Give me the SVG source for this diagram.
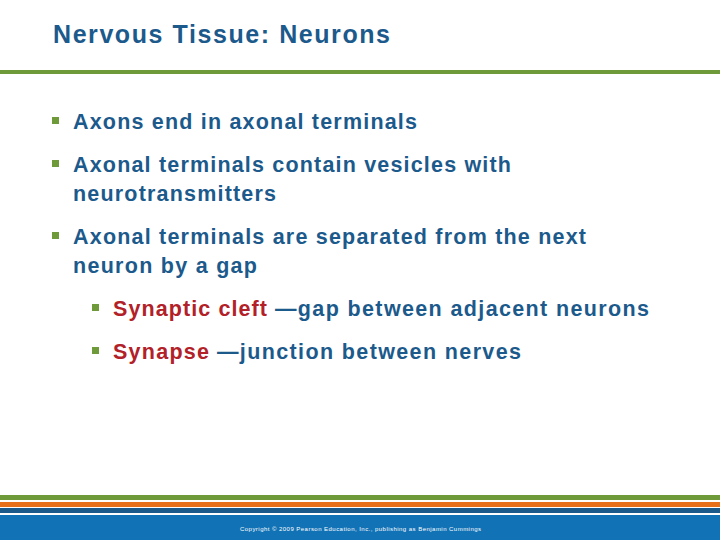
<svg xmlns="http://www.w3.org/2000/svg" width="720" height="540" viewBox="0 0 720 540">
<style>
text{font-family:"Liberation Sans",Arial,sans-serif;font-weight:bold;fill:#1c5a8c}
.b{font-size:21.5px}
.r{fill:#b22028}
.bl{fill:#6e9a3a}
</style>
<rect width="720" height="540" fill="#fff"/>
<text x="53" y="43" font-size="25" textLength="337" lengthAdjust="spacing">Nervous Tissue: Neurons</text>
<rect x="0" y="70" width="720" height="4" fill="#6e9a3a"/>
<g id="bullets">
<rect class="bl" x="52" y="117" width="7" height="7"/>
<text class="b" x="73" y="129" textLength="344" lengthAdjust="spacing">Axons end in axonal terminals</text>
<rect class="bl" x="52" y="160" width="7" height="7"/>
<text class="b" x="73" y="172" textLength="438" lengthAdjust="spacing">Axonal terminals contain vesicles with</text>
<text class="b" x="73" y="201" textLength="203" lengthAdjust="spacing">neurotransmitters</text>
<rect class="bl" x="52" y="232" width="7" height="7"/>
<text class="b" x="73" y="244" textLength="513" lengthAdjust="spacing">Axonal terminals are separated from the next</text>
<text class="b" x="73" y="273" textLength="184" lengthAdjust="spacing">neuron by a gap</text>
<rect class="bl" x="92" y="304" width="7" height="7"/>
<text class="b r" x="113" y="316" textLength="154" lengthAdjust="spacing">Synaptic cleft</text>
<text class="b" x="275" y="316" textLength="374" lengthAdjust="spacing">—gap between adjacent neurons</text>
<rect class="bl" x="92" y="347" width="7" height="7"/>
<text class="b r" x="113" y="359" textLength="96" lengthAdjust="spacing">Synapse</text>
<text class="b" x="217" y="359" textLength="304" lengthAdjust="spacing">—junction between nerves</text>
</g>
<rect x="0" y="495" width="720" height="5" fill="#6e9a3a"/>
<rect x="0" y="502" width="720" height="5" fill="#e8701a"/>
<rect x="0" y="508" width="720" height="5" fill="#1c5a8c"/>
<rect x="0" y="515" width="720" height="25" fill="#1172b6"/>
<text x="240" y="531" font-size="6" textLength="241" lengthAdjust="spacing" style="fill:#fff;font-weight:normal">Copyright © 2009 Pearson Education, Inc., publishing as Benjamin Cummings</text>
</svg>
